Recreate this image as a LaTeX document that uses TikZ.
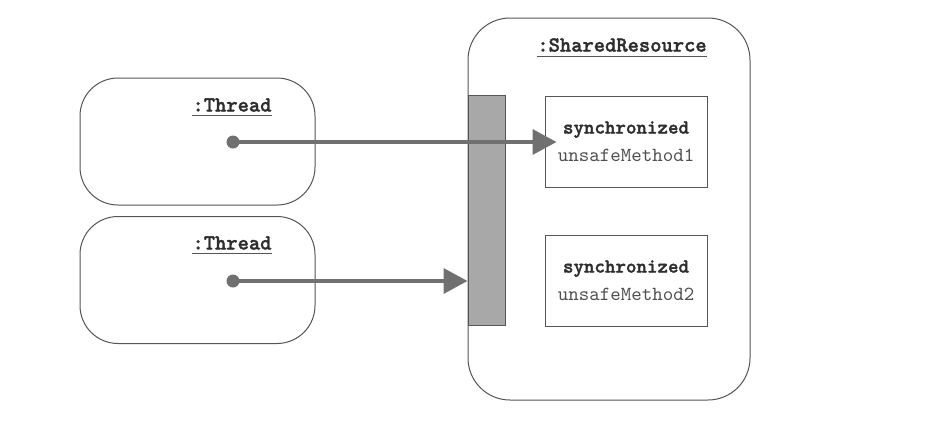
\documentclass[tikz,border=0pt]{standalone}
\usepackage{fontspec}
\setmonofont{lmmono10-regular.otf}[BoldFont=lmmonolt10-bold.otf, BoldFeatures={FakeBold=1.6}]
\usetikzlibrary{arrows.meta}
\definecolor{linegray}{HTML}{555555}
\definecolor{arrowgray}{HTML}{707070}
\definecolor{bargray}{HTML}{A8A8A8}
\definecolor{textgray}{HTML}{2E2E2E}
\definecolor{mtextgray}{HTML}{505050}
\begin{document}
\begin{tikzpicture}[x=1pt,y=-1pt,
  objbox/.style={draw=linegray, line width=1pt, rounded corners=38pt, inner sep=0pt},
  methbox/.style={draw=linegray, line width=1pt, inner sep=0pt, minimum width=162pt, minimum height=91pt, align=center, font=\ttfamily\fontsize{20}{28}\selectfont, text=mtextgray},
  lbl/.style={font=\ttfamily\bfseries\fontsize{21.5}{24}\selectfont, text=textgray, inner sep=0pt},
  uline/.style={draw=linegray, line width=1pt},
  dot/.style={circle, fill=arrowgray, inner sep=0pt, minimum size=13pt},
  conn/.style={draw=arrowgray, line width=3.5pt, -{Triangle[length=24pt,width=25pt]}}
]
\useasboundingbox (0,0) rectangle (940,424);
% thread objects
\node[objbox, minimum width=235pt, minimum height=127pt] (t1) at (197.5,141.5) {};
\node[objbox, minimum width=235pt, minimum height=127pt] (t2) at (197.5,280) {};
\node[lbl] (l1) at (232,105) {:Thread};
\node[lbl] (l2) at (232,243) {:Thread};
\draw[uline] ([yshift=-4pt]l1.south west) -- ([yshift=-4pt]l1.south east);
\draw[uline] ([yshift=-4pt]l2.south west) -- ([yshift=-4pt]l2.south east);
% shared resource
\node[objbox, rounded corners=42pt, minimum width=282pt, minimum height=382pt] (sr) at (609,209) {};
\node[lbl] (ls) at (622,45) {:SharedResource};
\draw[uline] ([yshift=-4pt]ls.south west) -- ([yshift=-4pt]ls.south east);
\node[draw=linegray, line width=1pt, fill=bargray, inner sep=0pt, minimum width=37pt, minimum height=230pt] (bar) at (486.5,210.5) {};
\node[methbox] (m1) at (626,141.5) {\textcolor{textgray}{\textbf{synchronized}}\\unsafeMethod1};
\node[methbox] (m2) at (626,280.5) {\textcolor{textgray}{\textbf{synchronized}}\\unsafeMethod2};
% connectors
\node[dot] (d1) at (233,142) {};
\node[dot] (d2) at (233,281) {};
\draw[conn] (d1.center) -- ([xshift=12pt]m1.west |- d1);
\draw[conn] (d2.center) -- (bar.west |- d2);
\end{tikzpicture}
\end{document}
